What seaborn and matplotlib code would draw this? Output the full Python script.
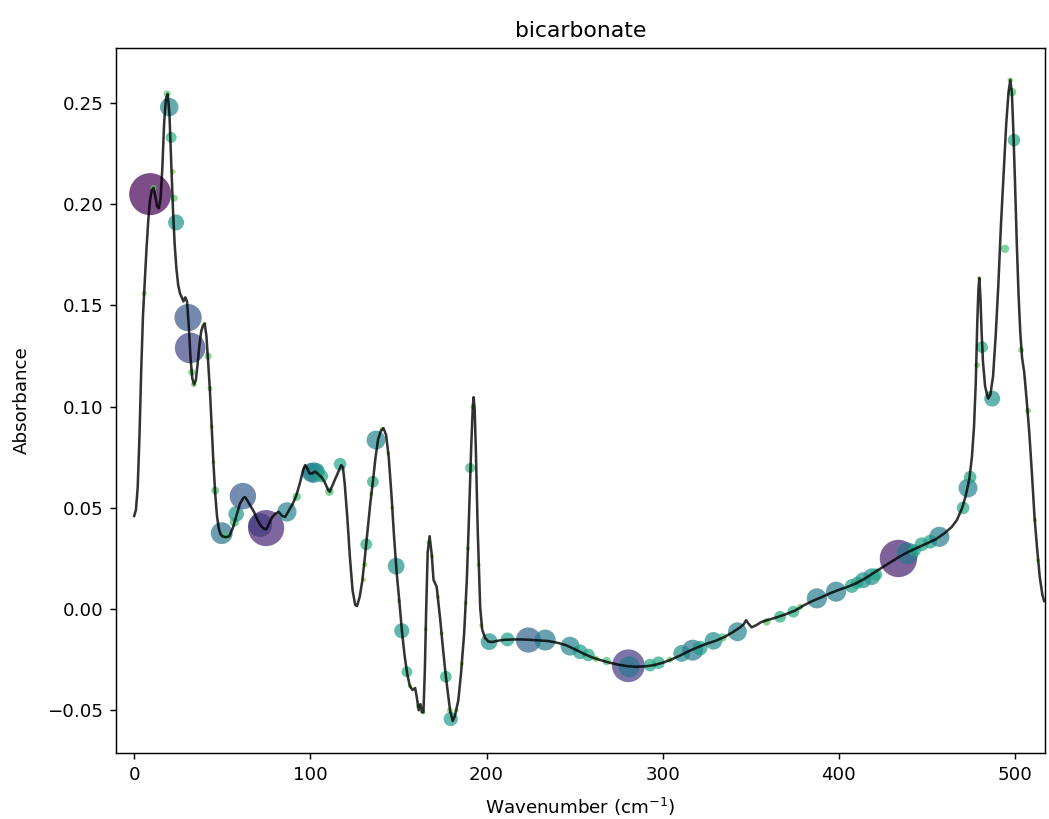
import matplotlib
matplotlib.use("Agg")
import matplotlib.pyplot as plt
import numpy as np
import pandas as pd
import seaborn as sns

# Absorbance spectrum of bicarbonate
wavenumber = [
    0, 1, 2, 3, 4, 5, 6, 7, 8, 9, 10, 11, 12, 13, 14, 15, 16, 17, 18, 19,
    20, 21, 22, 23, 24, 25, 26, 27, 28, 29, 30, 31, 32, 33, 34, 35, 36, 37,
    38, 39, 40, 41, 42, 43, 44, 45, 46, 47, 48, 49, 50, 52, 54, 56, 58, 60,
    62, 63, 64, 66, 68, 70, 72, 74, 75, 76, 78, 80, 82, 84, 85.7, 88, 90, 92,
    94, 96, 97, 98, 99.5, 101, 102.7, 104, 106.5, 108, 110, 111, 112, 114,
    116, 117.5, 118.5, 119.5, 121, 122.5, 124, 125.5, 126.5, 128, 129.5, 131,
    132.5, 134, 135.5, 137, 138.5, 140, 141.5, 143, 144.5, 146, 147.5, 149,
    150.5, 152, 153.5, 155, 156.5, 158, 159.5, 160.5, 161.5, 162.5, 163.3,
    164.2, 165, 165.7, 166.6, 167.7, 168.9, 169.9, 171.7, 173.7, 175, 176.5,
    178, 179.3, 180.8, 182, 184, 185.5, 187.3, 188.8, 190.1, 191.3, 192.2,
    192.7, 193.3, 193.9, 195, 196.4, 197.5, 199.2, 201, 203, 206, 210, 215,
    220, 225, 230, 235, 240, 245, 250, 255, 260, 265, 270, 275, 280, 285, 290,
    295, 300, 305, 310, 315, 320, 325, 330, 335, 340, 344, 346, 347.3, 348.5,
    350.5, 353, 356, 360, 365, 370, 375, 380, 385, 390, 395, 400, 405, 410,
    415, 420, 425, 430, 435, 440, 445, 450, 455, 460, 464, 467, 470, 472, 474,
    475.5, 476.7, 477.7, 478.5, 479.2, 479.7, 480.3, 481, 481.8, 483, 484.7,
    486, 487.5, 489, 490.5, 492, 493.5, 495, 496.3, 497.3, 498.2, 499, 500,
    501, 502, 503, 504, 505.2, 506.5, 508, 509.5, 511, 512.5, 514, 515.5, 516.5,
]
absorbance = [
    0.046, 0.049, 0.060, 0.085, 0.118, 0.145, 0.162, 0.178, 0.192, 0.202,
    0.207, 0.208, 0.204, 0.199, 0.198, 0.203, 0.218, 0.240, 0.252, 0.2545,
    0.245, 0.222, 0.198, 0.180, 0.168, 0.160, 0.156, 0.154, 0.152, 0.154,
    0.152, 0.140, 0.124, 0.114, 0.111, 0.113, 0.121, 0.130, 0.137, 0.140,
    0.141, 0.135, 0.122, 0.108, 0.090, 0.072, 0.057, 0.046, 0.040, 0.037,
    0.036, 0.0355, 0.036, 0.040, 0.046, 0.052, 0.055, 0.0553, 0.054, 0.051,
    0.048, 0.044, 0.041, 0.0395, 0.0395, 0.041, 0.045, 0.047, 0.048, 0.046,
    0.0455, 0.049, 0.052, 0.056, 0.062, 0.069, 0.0711, 0.070, 0.067, 0.067,
    0.068, 0.067, 0.065, 0.063, 0.059, 0.058, 0.060, 0.064, 0.068, 0.0711,
    0.070, 0.062, 0.045, 0.025, 0.009, 0.002, 0.0015, 0.006, 0.014, 0.026,
    0.039, 0.052, 0.063, 0.075, 0.084, 0.088, 0.0894, 0.086, 0.075, 0.057,
    0.036, 0.018, 0.004, -0.011, -0.023, -0.032, -0.038, -0.040, -0.039,
    -0.044, -0.050, -0.047, -0.051, -0.051, -0.030, -0.002, 0.028, 0.036,
    0.027, 0.0145, 0.011, -0.005, -0.017, -0.030, -0.041, -0.050, -0.0553,
    -0.053, -0.045, -0.032, -0.012, 0.014, 0.047, 0.080, 0.100, 0.1047,
    0.098, 0.080, 0.039, 0.001, -0.010, -0.0143, -0.016, -0.0163, -0.0157,
    -0.0152, -0.0150, -0.0150, -0.0152, -0.0155, -0.0158, -0.0166, -0.0178,
    -0.0198, -0.0220, -0.0239, -0.0253, -0.0265, -0.0275, -0.0282, -0.0285,
    -0.0283, -0.0277, -0.0265, -0.0249, -0.0229, -0.0207, -0.0188, -0.0171,
    -0.0157, -0.0138, -0.0113, -0.0090, -0.0075, -0.0055, -0.0070, -0.0090,
    -0.0080, -0.0064, -0.0053, -0.0040, -0.0025, -0.0008, 0.0018, 0.0040,
    0.0058, 0.0078, 0.0095, 0.0110, 0.0128, 0.0152, 0.0180, 0.0208, 0.0235,
    0.0262, 0.0285, 0.0305, 0.0325, 0.0345, 0.0375, 0.0405, 0.044, 0.050,
    0.056, 0.064, 0.075, 0.090, 0.112, 0.140, 0.158, 0.1635, 0.155, 0.137,
    0.122, 0.110, 0.104, 0.106, 0.115, 0.135, 0.160, 0.190, 0.215, 0.240,
    0.2555, 0.2614, 0.255, 0.237, 0.210, 0.180, 0.155, 0.136, 0.124, 0.117,
    0.104, 0.088, 0.068, 0.046, 0.030, 0.016, 0.007, 0.004,
]

# Per-band importance weights (marker radius and colour follow the weight)
band_x = [
    9.1, 19.9, 21.0, 22.7, 22.1, 23.8, 30.6, 31.8, 42.0, 32.7, 33.9, 43.0,
    5.7, 18.7, 11.0, 40.0, 44.0, 45.0, 46.0, 49.7, 52.0, 56.9, 57.9, 61.7,
    71.5, 74.9, 86.7, 92.3, 100.5, 101.8, 103.5, 106.5, 110.8, 116.9, 137.3,
    135.5, 131.7, 131.0, 130.4, 134.5, 140.5, 144.3, 146.5, 148.7, 150.3,
    151.9, 154.8, 156.5, 161.0, 164.2, 165.5, 167.0, 169.0, 172.5, 174.5,
    176.9, 179.2, 179.7, 183.0, 186.0, 188.2, 189.5, 190.7, 192.4, 195.5,
    197.0, 201.5, 211.9, 223.8, 233.3, 247.4, 253.1, 257.8, 262.0, 268.2,
    280.5, 281.0, 292.8, 297.6, 304.0, 310.8, 317.0, 321.2, 328.8, 334.0,
    342.4, 359.0, 366.6, 374.2, 378.0, 387.5, 398.4, 407.3, 410.5, 413.9,
    418.6, 421.0, 433.8, 438.9, 443.0, 447.0, 451.8, 457.0, 470.5, 473.3,
    474.5, 478.4, 479.7, 481.3, 487.0, 494.3, 497.3, 498.3, 499.4, 503.4,
    507.4, 511.3, 513.0,
]
band_y = [
    0.205, 0.248, 0.233, 0.203, 0.216, 0.191, 0.144, 0.129, 0.125, 0.117,
    0.111, 0.109, 0.156, 0.2545, 0.208, 0.141, 0.090, 0.0726, 0.0585, 0.0375,
    0.036, 0.043, 0.047, 0.0558, 0.0415, 0.040, 0.048, 0.0555, 0.0675,
    0.0674, 0.068, 0.0657, 0.058, 0.0716, 0.0835, 0.0629, 0.032, 0.022,
    0.0145, 0.057, 0.089, 0.077, 0.050, 0.0212, 0.004, -0.0107, -0.031,
    -0.038, -0.048, -0.051, -0.010, 0.033, 0.026, 0.006, -0.012, -0.0334,
    -0.050, -0.0543, -0.050, -0.027, 0.003, 0.030, 0.0697, 0.100, 0.022,
    -0.008, -0.0161, -0.0150, -0.0153, -0.0153, -0.0183, -0.0211, -0.0227,
    -0.0245, -0.0257, -0.0280, -0.0285, -0.0277, -0.0265, -0.0250, -0.0219,
    -0.0203, -0.0193, -0.0157, -0.0140, -0.0112, -0.0063, -0.0038, -0.0013,
    0.0011, 0.0053, 0.0086, 0.0114, 0.0130, 0.0143, 0.0160, 0.0170, 0.0250,
    0.0275, 0.0290, 0.0320, 0.0333, 0.0357, 0.050, 0.0598, 0.0652, 0.1206,
    0.1635, 0.1294, 0.104, 0.178, 0.2614, 0.2554, 0.2317, 0.128, 0.098,
    0.044, 0.024,
]
band_weight = [
    1.00, 0.44, 0.26, 0.17, 0.12, 0.38, 0.65, 0.73, 0.17, 0.17, 0.14, 0.12,
    0.12, 0.17, 0.15, 0.10, 0.10, 0.10, 0.19, 0.52, 0.18, 0.22, 0.37, 0.63,
    0.57, 0.86, 0.46, 0.20, 0.45, 0.49, 0.40, 0.30, 0.20, 0.30, 0.45, 0.28,
    0.28, 0.12, 0.10, 0.10, 0.10, 0.10, 0.10, 0.40, 0.10, 0.36, 0.26, 0.10,
    0.10, 0.10, 0.10, 0.10, 0.10, 0.10, 0.10, 0.28, 0.14, 0.34, 0.10, 0.10,
    0.10, 0.10, 0.24, 0.12, 0.10, 0.10, 0.40, 0.33, 0.60, 0.50, 0.45, 0.35,
    0.30, 0.15, 0.20, 0.78, 0.50, 0.30, 0.30, 0.15, 0.40, 0.50, 0.35, 0.42,
    0.20, 0.45, 0.18, 0.28, 0.28, 0.15, 0.48, 0.48, 0.33, 0.30, 0.38, 0.40,
    0.30, 0.89, 0.52, 0.30, 0.33, 0.33, 0.48, 0.30, 0.45, 0.30, 0.14, 0.10,
    0.28, 0.38, 0.20, 0.13, 0.20, 0.30, 0.14, 0.14, 0.10, 0.10,
]

spectrum = pd.DataFrame({"wavenumber": wavenumber, "absorbance": absorbance})
bands = pd.DataFrame({"wavenumber": band_x, "absorbance": band_y,
                      "weight": band_weight})
# radius follows the weight; the colour scale is compressed towards the dark end
bands["area"] = bands["weight"] ** 2
bands["shade"] = bands["weight"] ** 0.75

fig = plt.figure(figsize=(1049 / 131, 819 / 131), dpi=131)
ax = fig.add_axes([0.1106, 0.0806, 0.8856, 0.8608])

sns.scatterplot(data=bands, x="wavenumber", y="absorbance",
                hue="shade", hue_norm=(0, 1), palette="viridis_r",
                size="area", size_norm=(0, 1), sizes=(0, 533),
                alpha=0.7, linewidth=0, legend=False, ax=ax, zorder=2)
sns.lineplot(data=spectrum, x="wavenumber", y="absorbance",
             color="black", alpha=0.8, linewidth=1.4, ax=ax, zorder=3)

ax.set_xlim(-10.3, 517)
ax.set_ylim(-0.0711, 0.2772)
ax.set_yticks([-0.05, 0.0, 0.05, 0.10, 0.15, 0.20, 0.25])
ax.set_xlabel("Wavenumber (cm$^{-1}$)", labelpad=6.5)
ax.set_ylabel("Absorbance", labelpad=9)
ax.set_title("bicarbonate")

fig.savefig("out.png", dpi=131)
